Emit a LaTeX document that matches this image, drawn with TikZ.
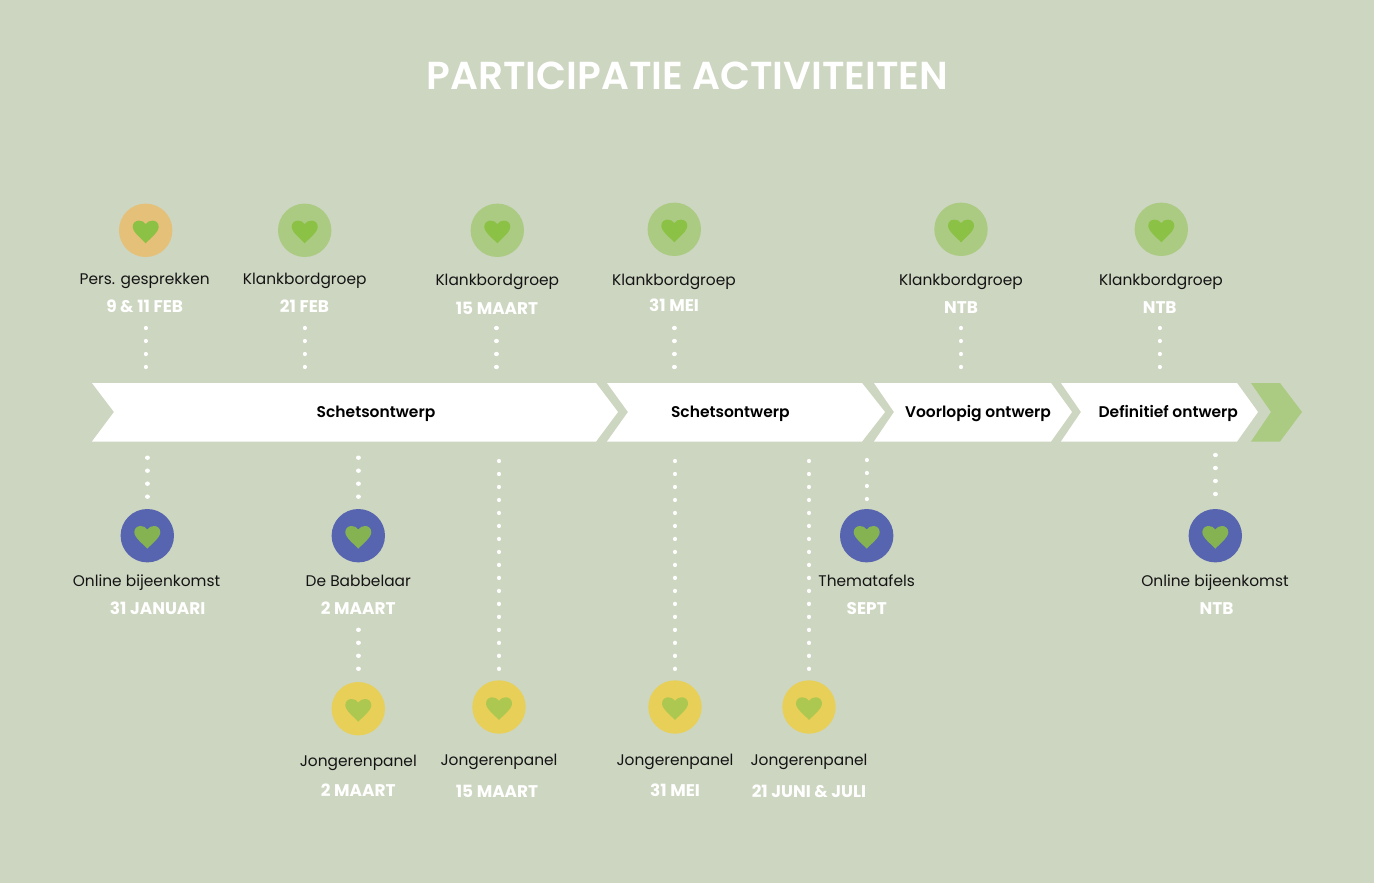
\documentclass[tikz,border=0pt]{standalone}
\usepackage{fontspec}
\setmainfont{Poppins}
\newfontfamily\semifont{Poppins SemiBold}
\usepackage{tikz}
\usetikzlibrary{calc}
\definecolor{sagebg}{HTML}{CDD6C0}
\definecolor{persorange}{HTML}{E5C079}
\definecolor{leafgreen}{HTML}{ABCB83}
\definecolor{heartgreen}{HTML}{8BC145}
\definecolor{onlineblue}{HTML}{5764B0}
\definecolor{heartblue}{HTML}{85B352}
\definecolor{panelyellow}{HTML}{E7CF58}
\definecolor{heartyellow}{HTML}{ADC850}

\begin{document}
\begin{tikzpicture}[
    x=1pt, y=-1pt,
    badge/.style 2 args = {
        circle, minimum size=53.4pt, inner sep=0pt, fill=#1,
        path picture={
            \fill[#2, shift={(path picture bounding box.center)}]
                (0,13) .. controls (-4,8.5) and (-13,2) .. (-13,-3.5)
                .. controls (-13,-7.5) and (-10,-9.7) .. (-6.8,-9.7)
                .. controls (-4,-9.7) and (-1.5,-8.5) .. (0,-6.2)
                .. controls (1.5,-8.5) and (4,-9.7) .. (6.8,-9.7)
                .. controls (10,-9.7) and (13,-7.5) .. (13,-3.5)
                .. controls (13,2) and (4,8.5) .. (0,13) -- cycle;
        }
    },
    persbadge/.style   = {badge={persorange}{heartgreen}},
    klankbadge/.style  = {badge={leafgreen}{heartgreen}},
    onlinebadge/.style = {badge={onlineblue}{heartblue}},
    panelbadge/.style  = {badge={panelyellow}{heartyellow}},
    activity/.style = {anchor=base, inner sep=0pt, text=black!92,
                       font=\fontsize{15.4}{18}\selectfont},
    datum/.style    = {anchor=base, inner sep=0pt, text=white,
                       font=\bfseries\fontsize{16.9}{20}\selectfont},
    phase/.style    = {anchor=base, inner sep=0pt, text=black,
                       font=\semifont\fontsize{15.5}{18}\selectfont},
    chevron/.style  = {fill=white},
    dotline/.style  = {white, line width=4.4pt, line cap=round,
                       dash pattern=on 0.01pt off 12.98pt},
]

% --- Achtergrond en titel ---
\fill[sagebg] (0,0) rectangle (1374,883);
\useasboundingbox (0,0) rectangle (1374,883);
\node[anchor=base, inner sep=0pt, text=white, font=\semifont\fontsize{39}{45}\selectfont]
    (titel) at (687.5,89) {PARTICIPATIE ACTIVITEITEN};

% --- Fasen (pijlen) ---
\fill[chevron] (92,383) -- (596,383) -- (618,412) -- (596,441.5) -- (92,441.5) -- (114,412) -- cycle;
\fill[chevron] (607,383) -- (862,383) -- (885,412) -- (862,441.5) -- (607,441.5) -- (628,412) -- cycle;
\fill[chevron] (874,383) -- (1051,383) -- (1072,412) -- (1051,441.5) -- (874,441.5) -- (894,412) -- cycle;
\fill[chevron] (1061,383) -- (1237,383) -- (1258,412) -- (1237,441.5) -- (1061,441.5) -- (1081,412) -- cycle;
\fill[leafgreen] (1251,383) -- (1280,383) -- (1302,412) -- (1280,441.5) -- (1251,441.5) -- (1271,412) -- cycle;
\node[phase] (fase1) at (376,417) {Schetsontwerp};
\node[phase] (fase2) at (730.3,417) {Schetsontwerp};
\node[phase] (fase3) at (978,417) {Voorlopig ontwerp};
\node[phase] (fase4) at (1168.3,417) {Definitief ontwerp};

% --- Bovenste rij ---
\node[persbadge]  (pers)   at (145.7,230.3) {};
\node[klankbadge] (klank1) at (304.7,230.3) {};
\node[klankbadge] (klank2) at (497.3,230.3) {};
\node[klankbadge] (klank3) at (674.3,229.3) {};
\node[klankbadge] (klank4) at (961,229.3) {};
\node[klankbadge] (klank5) at (1161.3,229.3) {};

\node[activity] (perstxt)   at (144.7,284.3) {Pers. gesprekken};
\node[activity] (klank1txt) at (304.7,284.3) {Klankbordgroep};
\node[activity] (klank2txt) at (497.3,285) {Klankbordgroep};
\node[activity] (klank3txt) at (674,285) {Klankbordgroep};
\node[activity] (klank4txt) at (961,285) {Klankbordgroep};
\node[activity] (klank5txt) at (1161,285) {Klankbordgroep};

\node[datum] (persdat)   at (144.7,312) {9 \& 11 FEB};
\node[datum] (klank1dat) at (304.5,312) {21 FEB};
\node[datum] (klank2dat) at (497,314) {15 MAART};
\node[datum] (klank3dat) at (674,311) {31 MEI};
\node[datum] (klank4dat) at (961,313) {NTB};
\node[datum] (klank5dat) at (1159.7,313) {NTB};

\coordinate (perspin)   at (145.7,367);
\coordinate (klank1pin) at (304.7,367);
\coordinate (klank2pin) at (496.3,367);
\coordinate (klank3pin) at (674.3,367);
\coordinate (klank4pin) at (961,367);
\coordinate (klank5pin) at (1159.7,367);

\draw[dotline, shorten >=5pt] (perspin)   -- (perspin |- persdat.south);
\draw[dotline, shorten >=5pt] (klank1pin) -- (klank1pin |- klank1dat.south);
\draw[dotline, shorten >=5pt] (klank2pin) -- (klank2pin |- klank2dat.south);
\draw[dotline, shorten >=5pt] (klank3pin) -- (klank3pin |- klank3dat.south);
\draw[dotline, shorten >=5pt] (klank4pin) -- (klank4pin |- klank4dat.south);
\draw[dotline, shorten >=5pt] (klank5pin) -- (klank5pin |- klank5dat.south);

% --- Onderste rij ---
\node[onlinebadge] (online1) at (147.3,535.7) {};
\node[onlinebadge] (babbel)  at (358.3,535.7) {};
\node[onlinebadge] (thema)   at (866.7,535.7) {};
\node[onlinebadge] (online2) at (1215.3,535.7) {};

\node[activity] (online1txt) at (146.5,586.3) {Online bijeenkomst};
\node[activity] (babbeltxt)  at (358.3,586.3) {De Babbelaar};
\node[activity] (thematxt)   at (866.7,586.3) {Thematafels};
\node[activity] (online2txt) at (1215,586.3) {Online bijeenkomst};

\node[datum] (online1dat) at (157.7,614) {31 JANUARI};
\node[datum] (babbeldat)  at (358.3,614) {2 MAART};
\node[datum] (themadat)   at (866.7,614) {SEPT};
\node[datum] (online2dat) at (1216.5,614.3) {NTB};

% --- Jongerenpanel ---
\node[panelbadge] (panel1) at (358.3,708.7) {};
\node[panelbadge] (panel2) at (499,707) {};
\node[panelbadge] (panel3) at (675,707) {};
\node[panelbadge] (panel4) at (809,707) {};

\node[activity] (panel1txt) at (358.3,766) {Jongerenpanel};
\node[activity] (panel2txt) at (499,765.3) {Jongerenpanel};
\node[activity] (panel3txt) at (675,765.3) {Jongerenpanel};
\node[activity] (panel4txt) at (809,765.3) {Jongerenpanel};

\node[datum] (panel1dat) at (358.3,796.5) {2 MAART};
\node[datum] (panel2dat) at (497,797.5) {15 MAART};
\node[datum] (panel3dat) at (675,796.5) {31 MEI};
\node[datum] (panel4dat) at (809,797) {21 JUNI \& JULI};

% --- Stippellijnen onder de fasen ---
\coordinate (online1pin) at (147.3,457.7);
\coordinate (babbelpin)  at (358.3,457.7);
\coordinate (panel2pin)  at (499,461);
\coordinate (panel3pin)  at (675,461);
\coordinate (panel4pin)  at (809,461);
\coordinate (themapin)   at (866.7,460);
\coordinate (online2pin) at (1215.3,455);

\draw[dotline, shorten >=5pt] (online1pin) -- (online1.north);
\draw[dotline, shorten >=5pt] (babbelpin)  -- (babbel.north);
\draw[dotline, shorten >=5pt] (panel2pin)  -- (panel2.north);
\draw[dotline, shorten >=5pt] (panel3pin)  -- (panel3.north);
\draw[dotline, shorten >=5pt] (panel4pin)  -- (panel4.north);
\draw[dotline, shorten >=5pt] (themapin)   -- (thema.north);
\draw[dotline, shorten >=5pt] (online2pin) -- (online2.north);
\draw[dotline, shorten <=13pt, shorten >=6pt] (panel1.north) -- (babbeldat.south);

\end{tikzpicture}
\end{document}
